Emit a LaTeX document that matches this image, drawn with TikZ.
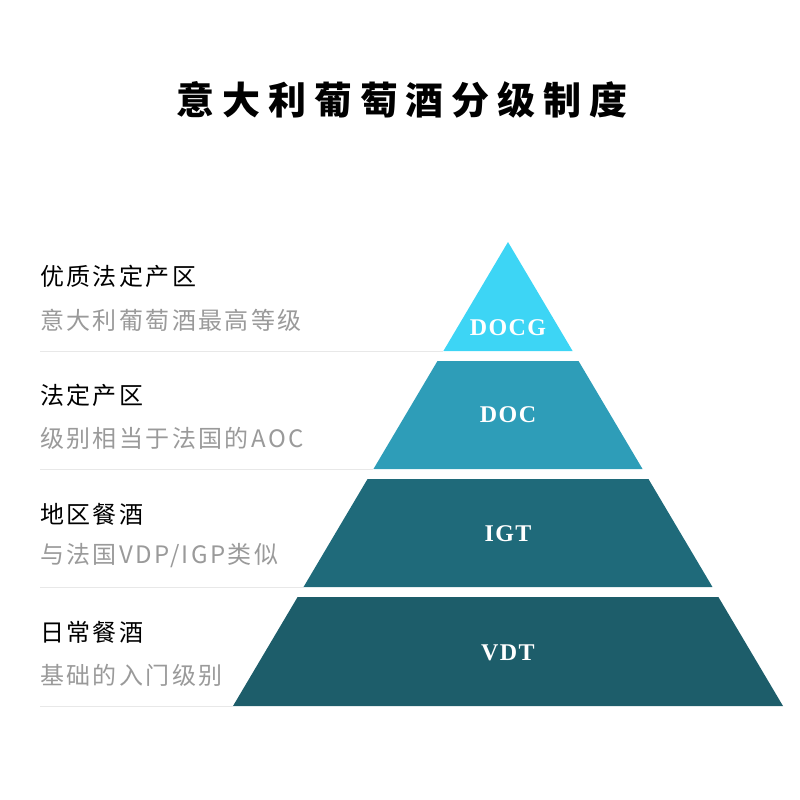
\documentclass[tikz,border=0pt]{standalone}
\usepackage{fontspec}
\setmainfont{Noto Sans CJK SC}
\newfontfamily\headfont[LetterSpace=21]{Noto Sans CJK SC}
\newfontfamily\rowfont[LetterSpace=10]{Noto Sans CJK SC}
\newfontfamily\tierfont[LetterSpace=6]{Liberation Serif}
\definecolor{docg}{HTML}{3DD5F5}
\definecolor{doc}{HTML}{2E9DB8}
\definecolor{igt}{HTML}{1F6A7A}
\definecolor{vdt}{HTML}{1D5D6A}
\definecolor{subgray}{HTML}{9A9A9A}
\definecolor{sepgray}{HTML}{E8E8E8}
\def\apexx{508}
\def\apexy{242}
\def\basey{706}
\def\halfw{275}
\pgfmathsetmacro{\slope}{\halfw/(\basey-\apexy)}

\begin{document}
\begin{tikzpicture}[
  x=1pt, y=-1pt,
  heading/.style  = {inner sep=0pt, font=\headfont\bfseries\fontsize{38}{42}\selectfont},
  rowtitle/.style = {anchor=west, inner sep=0pt, text=black,
                     font=\rowfont\fontsize{24}{28}\selectfont},
  rowsub/.style   = {anchor=west, inner sep=0pt, text=subgray,
                     font=\rowfont\fontsize{24}{28}\selectfont},
  tierlbl/.style  = {inner sep=0pt, text=white,
                     font=\tierfont\bfseries\fontsize{24}{28}\selectfont},
  sepline/.style  = {draw=sepgray, line width=1pt},
]
\useasboundingbox (0,0) rectangle (800,800);

% ---------- heading ----------
\node[heading] (head) at (402,100) {意大利葡萄酒分级制度};

% ---------- pyramid slices + separators ----------
\foreach \n/\yt/\yb/\col/\lbl/\ly in {1/242/351/docg/DOCG/328, 2/361/469/doc/DOC/415,
                                      3/479/587/igt/IGT/534, 4/597/706/vdt/VDT/653}{
  \pgfmathsetmacro{\wt}{\slope*(\yt-\apexy)}
  \pgfmathsetmacro{\wb}{\slope*(\yb-\apexy)}
  \coordinate (sep-\n) at (40,\yb);
  \coordinate (corner-\n) at (\apexx-\wb,\yb);
  \draw[sepline] (sep-\n) -- (corner-\n);
  \fill[\col] (\apexx-\wt,\yt) -- (\apexx+\wt,\yt) -- (\apexx+\wb,\yb) -- (corner-\n) -- cycle;
  \node[tierlbl] (tier-\n) at (\apexx,\ly) {\lbl};
}

% ---------- row texts ----------
\foreach \n/\ty/\sy/\ttl/\sub in {1/276/320/优质法定产区/意大利葡萄酒最高等级,
                                  2/395/438/法定产区/级别相当于法国的AOC,
                                  3/514/556/地区餐酒/{与法国VDP/IGP类似},
                                  4/632/675/日常餐酒/基础的入门级别}{
  \node[rowtitle] (title-\n) at (40,\ty) {\ttl};
  \node[rowsub]   (sub-\n)   at (40,\sy) {\sub};
}

\end{tikzpicture}
\end{document}
